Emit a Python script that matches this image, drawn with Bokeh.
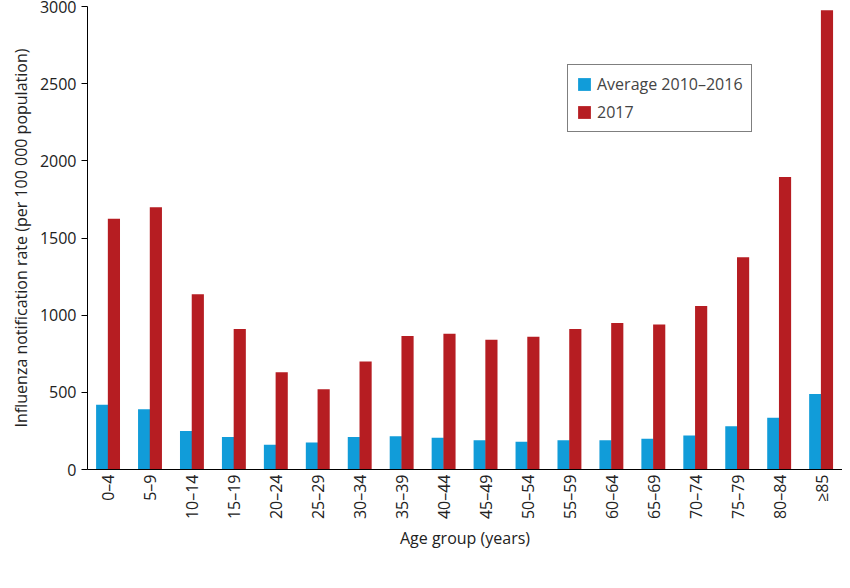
from bokeh.plotting import figure
from bokeh.models import ColumnDataSource, FactorRange, Range1d, Legend, LegendItem
from bokeh.transform import dodge
from bokeh.embed import file_html
from bokeh.resources import INLINE

ages = ["0–4","5–9","10–14","15–19","20–24","25–29","30–34","35–39","40–44","45–49",
        "50–54","55–59","60–64","65–69","70–74","75–79","80–84","≥85"]
avg = [420,390,250,210,160,175,210,215,205,190,180,190,190,200,220,280,335,490]
y2017 = [1625,1700,1135,910,630,520,700,865,880,840,860,910,950,940,1060,1375,1895,2975]

src = ColumnDataSource(dict(age=ages, avg=avg, y2017=y2017))
FONT = "Open Sans"
p = figure(x_range=FactorRange(*ages, range_padding=0), y_range=Range1d(0, 3000),
           frame_width=755, frame_height=463, min_border_left=87, min_border_top=6,
           min_border_right=0, output_backend="svg", toolbar_location=None)
b1 = p.vbar(x=dodge("age", -0.15, range=p.x_range), top="avg", width=0.29, source=src,
            color="#119cd9", line_color=None)
b2 = p.vbar(x=dodge("age", 0.13, range=p.x_range), top="y2017", width=0.29, source=src,
            color="#b61d22", line_color=None)
p.xgrid.visible = False
p.ygrid.visible = False
p.outline_line_color = None
for ax in (p.xaxis[0], p.yaxis[0]):
    ax.axis_line_color = "black"
    ax.major_tick_line_color = "black"
    ax.major_label_text_font = FONT
    ax.major_label_text_font_size = "16px"
    ax.major_label_text_color = "#222222"
    ax.axis_label_text_font = FONT
    ax.axis_label_text_font_size = "16px"
    ax.axis_label_text_font_style = "normal"
    ax.axis_label_text_color = "#222222"
p.yaxis.minor_tick_line_color = None
p.yaxis.major_tick_in = 0
p.yaxis.major_tick_out = 6
p.xaxis.major_tick_in = 0
p.xaxis.major_tick_out = 0
p.xaxis.major_label_orientation = 1.5708
p.xaxis.axis_label = "Age group (years)"
p.yaxis.axis_label = "Influenza notification rate (per 100 000 population)"
p.yaxis.ticker = [0, 500, 1000, 1500, 2000, 2500, 3000]

legend = Legend(items=[LegendItem(label="Average 2010–2016", renderers=[b1]),
                       LegendItem(label="2017", renderers=[b2])],
                location=(480, 337), border_line_color="black",
                label_text_font=FONT, label_text_font_size="16px",
                glyph_width=16, glyph_height=16, padding=8, spacing=6, margin=0)
p.add_layout(legend, "center")

open("out.html", "w").write(file_html(p, INLINE))
